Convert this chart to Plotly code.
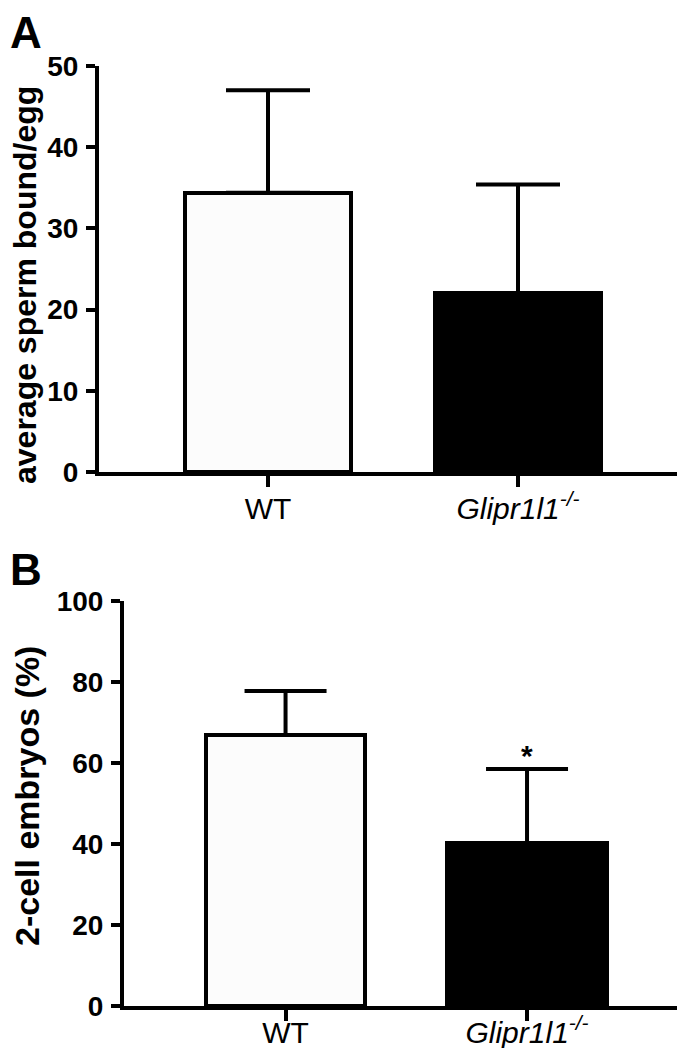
import plotly.graph_objects as go

# ---- data ----
categories = ["WT", "Glipr1l1-/-"]
tick_text = ["WT", "<i>Glipr1l1<sup>-/-</sup></i>"]
sperm_mean = [34.4, 22.0]
sperm_sd = [12.6, 13.4]
embryo_mean = [66.9, 40.2]
embryo_sd = [10.9, 18.3]
bar_colors = ["#fcfcfc", "#000000"]
sperm_ticks = [0, 10, 20, 30, 40, 50]
embryo_ticks = [0, 20, 40, 60, 80, 100]

W, H = 685, 1048
FONT = "Liberation Sans, Arial, sans-serif"
xpos = list(range(len(categories)))

fig = go.Figure()

fig.add_trace(go.Bar(
    x=xpos, y=sperm_mean, width=0.664,
    marker=dict(color=bar_colors, line=dict(color="black", width=4)),
    error_y=dict(type="data", array=sperm_sd, arrayminus=[0, 0], symmetric=False,
                 color="black", thickness=4, width=42),
    xaxis="x", yaxis="y", showlegend=False,
))
fig.add_trace(go.Bar(
    x=xpos, y=embryo_mean, width=0.66,
    marker=dict(color=bar_colors, line=dict(color="black", width=4)),
    error_y=dict(type="data", array=embryo_sd, arrayminus=[0, 0], symmetric=False,
                 color="black", thickness=4, width=41),
    xaxis="x2", yaxis="y2", showlegend=False,
))

xcommon = dict(
    showline=True, linecolor="black", linewidth=4,
    ticks="outside", ticklen=11, tickwidth=4, tickcolor="black",
    showgrid=False, zeroline=False, automargin=False,
    tickmode="array", tickvals=xpos, ticktext=tick_text,
    tickfont=dict(family=FONT, size=30, color="black"),
)
ycommon = dict(
    showline=True, linecolor="black", linewidth=4,
    ticks="outside", ticklen=9, tickwidth=4, tickcolor="black",
    showgrid=False, zeroline=False, automargin=False,
    tickfont=dict(family=FONT, size=28, color="black", weight="bold"),
    ticklabelstandoff=2,
)

fig.update_layout(
    width=W, height=H,
    margin=dict(l=0, r=0, t=0, b=0, autoexpand=False),
    plot_bgcolor="white", paper_bgcolor="white",
    bargap=0,
    xaxis=dict(domain=[91 / W, 680 / W], range=[-0.676, 1.68], anchor="y",
               ticklabelstandoff=-4, **xcommon),
    yaxis=dict(domain=[1 - 464 / H, 1 - 58 / H], range=[0, 50], anchor="x",
               tickvals=sperm_ticks, **ycommon),
    xaxis2=dict(domain=[116 / W, 683 / W], range=[-0.669, 1.679], anchor="y2",
                ticklabelstandoff=-14, **xcommon),
    yaxis2=dict(domain=[1 - 998 / H, 1 - 593 / H], range=[0, 100], anchor="x2",
                tickvals=embryo_ticks, **ycommon),
)

annotations = [
    dict(text="A", x=0, y=1 - 0 / H, xref="paper", yref="paper", xanchor="left",
         yanchor="top", yshift=2, showarrow=False,
         font=dict(family=FONT, size=44, color="black", weight="bold")),
    dict(text="B", x=0, y=1 - 540 / H, xref="paper", yref="paper", xanchor="left",
         yanchor="top", yshift=5, showarrow=False,
         font=dict(family=FONT, size=44, color="black", weight="bold")),
    dict(text="average sperm bound/egg", textangle=-90, x=17 / W, y=1 - 277 / H,
         xref="paper", yref="paper", xanchor="center", yanchor="middle", showarrow=False,
         font=dict(family=FONT, size=32, color="black", weight="bold")),
    dict(text="2-cell embryos (%)", textangle=-90, x=19 / W, y=1 - 788 / H,
         xref="paper", yref="paper", xanchor="center", yanchor="middle", showarrow=False,
         font=dict(family=FONT, size=34, color="black", weight="bold")),
    dict(text="*", x=xpos[1], y=embryo_mean[1] + embryo_sd[1], xref="x2", yref="y2",
         xanchor="center", yanchor="bottom", yshift=-5, showarrow=False,
         font=dict(family=FONT, size=30, color="black", weight="bold")),
]
fig.update_layout(annotations=annotations)

fig.write_html("out.html")
